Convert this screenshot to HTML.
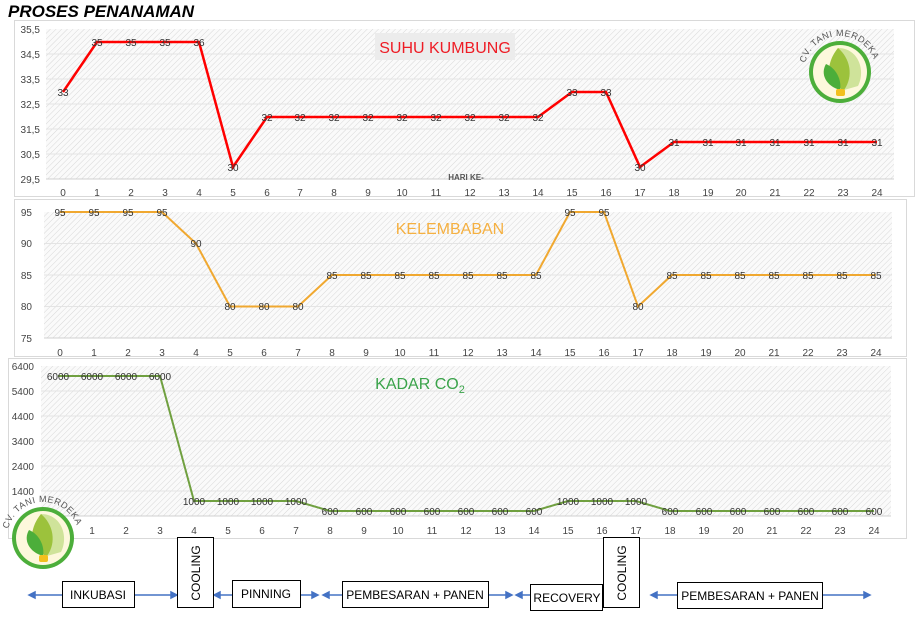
<!DOCTYPE html>
<html><head><meta charset="utf-8"><style>
body{margin:0;background:#fff;width:918px;height:619px;overflow:hidden}
svg{display:block;font-family:"Liberation Sans",sans-serif}
</style></head><body>
<svg width="918" height="619" viewBox="0 0 918 619" xmlns="http://www.w3.org/2000/svg">
<defs>
<pattern id="h" width="4" height="4" patternUnits="userSpaceOnUse" patternTransform="rotate(45)">
<rect width="4" height="4" fill="#fafafa"/><line x1="0" y1="0" x2="0" y2="4" stroke="#d8d8d8" stroke-width="1"/></pattern>
<g id="logo">
<circle r="31" fill="#4cae3a"/><circle r="27" fill="#fdf8dc"/>
<path d="M-2,-24 C18,-24 26,-2 18,14 L4,18 C-10,12 -14,-10 -2,-24Z" fill="#cfe39a"/>
<path d="M-2,-24 C10,-14 14,4 4,18 C-10,14 -18,-4 -2,-24Z" fill="#9cc23c"/>
<path d="M-14,-8 C-4,-4 2,8 0,18 C-14,14 -20,2 -14,-8Z" fill="#4cae3a"/>
<rect x="-4" y="17" width="9" height="7" rx="2" fill="#f2c01d"/>
<path id="arc" d="M-36,0 A36,36 0 0 1 36,0" fill="none"/>
<text font-size="9" fill="#555" letter-spacing="0.5"><textPath href="#arc" startOffset="8%">CV. TANI MERDEKA</textPath></text>
</g>
</defs>
<text x="8" y="17" font-size="17" font-weight="bold" font-style="italic">PROSES PENANAMAN</text>

<!-- Chart 1 -->
<rect x="14.5" y="20.5" width="900" height="176" fill="#fff" stroke="#d9d9d9"/>
<rect x="46" y="29" width="848" height="150" fill="url(#h)"/>
<g stroke="#e4e4e4" stroke-width="1">
<line x1="46" y1="54" x2="894" y2="54"/><line x1="46" y1="79" x2="894" y2="79"/><line x1="46" y1="104" x2="894" y2="104"/><line x1="46" y1="129" x2="894" y2="129"/><line x1="46" y1="154" x2="894" y2="154"/>
</g>
<line x1="46" y1="179" x2="894" y2="179" stroke="#d0d0d0"/>
<g font-size="10" fill="#444" text-anchor="end">
<text x="40" y="33">35,5</text><text x="40" y="58">34,5</text><text x="40" y="83">33,5</text><text x="40" y="108">32,5</text><text x="40" y="133">31,5</text><text x="40" y="158">30,5</text><text x="40" y="183">29,5</text></g>
<rect x="375" y="33" width="140" height="27" fill="#ececec"/>
<text x="445" y="53" font-size="16" fill="#ee1c25" text-anchor="middle">SUHU KUMBUNG</text>
<text x="466" y="180" font-size="8" font-weight="bold" fill="#555" text-anchor="middle">HARI KE-</text>
<polyline fill="none" stroke="#ff0000" stroke-width="2.5" points="63,92 97,42 131,42 165,42 199,42 233,167 267,117 300,117 334,117 368,117 402,117 436,117 470,117 504,117 538,117 572,92 606,92 640,167 674,142 708,142 741,142 775,142 809,142 843,142 877,142"/>
<g font-size="10" fill="#333" text-anchor="middle">
<text x="63" y="96">33</text><text x="97" y="46">35</text><text x="131" y="46">35</text><text x="165" y="46">35</text><text x="199" y="46">36</text><text x="233" y="171">30</text><text x="267" y="121">32</text><text x="300" y="121">32</text><text x="334" y="121">32</text><text x="368" y="121">32</text><text x="402" y="121">32</text><text x="436" y="121">32</text><text x="470" y="121">32</text><text x="504" y="121">32</text><text x="538" y="121">32</text><text x="572" y="96">33</text><text x="606" y="96">33</text><text x="640" y="171">30</text><text x="674" y="146">31</text><text x="708" y="146">31</text><text x="741" y="146">31</text><text x="775" y="146">31</text><text x="809" y="146">31</text><text x="843" y="146">31</text><text x="877" y="146">31</text></g>
<g font-size="10" fill="#444" text-anchor="middle">
<text x="63" y="196">0</text><text x="97" y="196">1</text><text x="131" y="196">2</text><text x="165" y="196">3</text><text x="199" y="196">4</text><text x="233" y="196">5</text><text x="267" y="196">6</text><text x="300" y="196">7</text><text x="334" y="196">8</text><text x="368" y="196">9</text><text x="402" y="196">10</text><text x="436" y="196">11</text><text x="470" y="196">12</text><text x="504" y="196">13</text><text x="538" y="196">14</text><text x="572" y="196">15</text><text x="606" y="196">16</text><text x="640" y="196">17</text><text x="674" y="196">18</text><text x="708" y="196">19</text><text x="741" y="196">20</text><text x="775" y="196">21</text><text x="809" y="196">22</text><text x="843" y="196">23</text><text x="877" y="196">24</text></g>
<use href="#logo" x="840" y="72"/>

<!-- Chart 2 -->
<rect x="14.5" y="199.5" width="892" height="157" fill="#fff" stroke="#d9d9d9"/>
<rect x="44" y="212" width="848" height="126" fill="url(#h)"/>
<g stroke="#e4e4e4"><line x1="44" y1="243.5" x2="892" y2="243.5"/><line x1="44" y1="275" x2="892" y2="275"/><line x1="44" y1="306.5" x2="892" y2="306.5"/></g>
<line x1="44" y1="338" x2="892" y2="338" stroke="#d0d0d0"/>
<g font-size="10" fill="#444" text-anchor="end">
<text x="32" y="216">95</text><text x="32" y="247">90</text><text x="32" y="279">85</text><text x="32" y="310">80</text><text x="32" y="342">75</text></g>
<text x="450" y="234" font-size="16" fill="#f5b041" text-anchor="middle">KELEMBABAN</text>
<polyline fill="none" stroke="#f0a830" stroke-width="2" points="60,212 94,212 128,212 162,212 196,243.5 230,306.5 264,306.5 298,306.5 332,275 366,275 400,275 434,275 468,275 502,275 536,275 570,212 604,212 638,306.5 672,275 706,275 740,275 774,275 808,275 842,275 876,275"/>
<g font-size="10" fill="#333" text-anchor="middle">
<text x="60" y="216">95</text><text x="94" y="216">95</text><text x="128" y="216">95</text><text x="162" y="216">95</text><text x="196" y="247">90</text><text x="230" y="310">80</text><text x="264" y="310">80</text><text x="298" y="310">80</text><text x="332" y="279">85</text><text x="366" y="279">85</text><text x="400" y="279">85</text><text x="434" y="279">85</text><text x="468" y="279">85</text><text x="502" y="279">85</text><text x="536" y="279">85</text><text x="570" y="216">95</text><text x="604" y="216">95</text><text x="638" y="310">80</text><text x="672" y="279">85</text><text x="706" y="279">85</text><text x="740" y="279">85</text><text x="774" y="279">85</text><text x="808" y="279">85</text><text x="842" y="279">85</text><text x="876" y="279">85</text></g>
<g font-size="10" fill="#444" text-anchor="middle">
<text x="60" y="356">0</text><text x="94" y="356">1</text><text x="128" y="356">2</text><text x="162" y="356">3</text><text x="196" y="356">4</text><text x="230" y="356">5</text><text x="264" y="356">6</text><text x="298" y="356">7</text><text x="332" y="356">8</text><text x="366" y="356">9</text><text x="400" y="356">10</text><text x="434" y="356">11</text><text x="468" y="356">12</text><text x="502" y="356">13</text><text x="536" y="356">14</text><text x="570" y="356">15</text><text x="604" y="356">16</text><text x="638" y="356">17</text><text x="672" y="356">18</text><text x="706" y="356">19</text><text x="740" y="356">20</text><text x="774" y="356">21</text><text x="808" y="356">22</text><text x="842" y="356">23</text><text x="876" y="356">24</text></g>

<!-- Chart 3 -->
<rect x="8.5" y="358.5" width="898" height="180" fill="#fff" stroke="#d9d9d9"/>
<rect x="41" y="366" width="850" height="150" fill="url(#h)"/>
<g stroke="#e4e4e4"><line x1="41" y1="391" x2="891" y2="391"/><line x1="41" y1="416" x2="891" y2="416"/><line x1="41" y1="441" x2="891" y2="441"/><line x1="41" y1="466" x2="891" y2="466"/><line x1="41" y1="491" x2="891" y2="491"/></g>
<line x1="41" y1="516" x2="891" y2="516" stroke="#d0d0d0"/>
<g font-size="10" fill="#444" text-anchor="end">
<text x="34" y="370">6400</text><text x="34" y="395">5400</text><text x="34" y="420">4400</text><text x="34" y="445">3400</text><text x="34" y="470">2400</text><text x="34" y="495">1400</text></g>
<text x="420" y="389" font-size="16" fill="#3aa34a" text-anchor="middle">KADAR CO<tspan font-size="11" dy="4">2</tspan></text>
<polyline fill="none" stroke="#70a040" stroke-width="2" points="58,376 92,376 126,376 160,376 194,501 228,501 262,501 296,501 330,511 364,511 398,511 432,511 466,511 500,511 534,511 568,501 602,501 636,501 670,511 704,511 738,511 772,511 806,511 840,511 874,511"/>
<g font-size="10" fill="#333" text-anchor="middle">
<text x="58" y="380">6000</text><text x="92" y="380">6000</text><text x="126" y="380">6000</text><text x="160" y="380">6000</text><text x="194" y="505">1000</text><text x="228" y="505">1000</text><text x="262" y="505">1000</text><text x="296" y="505">1000</text><text x="330" y="515">600</text><text x="364" y="515">600</text><text x="398" y="515">600</text><text x="432" y="515">600</text><text x="466" y="515">600</text><text x="500" y="515">600</text><text x="534" y="515">600</text><text x="568" y="505">1000</text><text x="602" y="505">1000</text><text x="636" y="505">1000</text><text x="670" y="515">600</text><text x="704" y="515">600</text><text x="738" y="515">600</text><text x="772" y="515">600</text><text x="806" y="515">600</text><text x="840" y="515">600</text><text x="874" y="515">600</text></g>
<g font-size="10" fill="#444" text-anchor="middle">
<text x="92" y="534">1</text><text x="126" y="534">2</text><text x="160" y="534">3</text><text x="194" y="534">4</text><text x="228" y="534">5</text><text x="262" y="534">6</text><text x="296" y="534">7</text><text x="330" y="534">8</text><text x="364" y="534">9</text><text x="398" y="534">10</text><text x="432" y="534">11</text><text x="466" y="534">12</text><text x="500" y="534">13</text><text x="534" y="534">14</text><text x="568" y="534">15</text><text x="602" y="534">16</text><text x="636" y="534">17</text><text x="670" y="534">18</text><text x="704" y="534">19</text><text x="738" y="534">20</text><text x="772" y="534">21</text><text x="806" y="534">22</text><text x="840" y="534">23</text><text x="874" y="534">24</text></g>
<use href="#logo" x="43" y="538"/>

<!-- Timeline -->
<g stroke="#4472c4" stroke-width="1.5" fill="#4472c4">
<line x1="32" y1="595" x2="62" y2="595"/><path d="M29,595 l6,-3 v6z"/>
<line x1="135" y1="595" x2="174" y2="595"/><path d="M177,595 l-6,-3 v6z"/>
<line x1="217" y1="595" x2="232" y2="595"/><path d="M214,595 l6,-3 v6z"/>
<line x1="300" y1="595" x2="315" y2="595"/><path d="M318,595 l-6,-3 v6z"/>
<line x1="327" y1="595" x2="342" y2="595"/><path d="M323,595 l6,-3 v6z"/>
<line x1="488" y1="595" x2="508" y2="595"/><path d="M512,595 l-6,-3 v6z"/>
<path d="M516,595 l6,-3 v6z"/><line x1="520" y1="595" x2="530" y2="595"/>
<line x1="655" y1="595" x2="677" y2="595"/><path d="M651,595 l6,-3 v6z"/>
<line x1="822" y1="595" x2="866" y2="595"/><path d="M870,595 l-6,-3 v6z"/>
</g>
<g fill="#fff" stroke="#000" stroke-width="1">
<rect x="62.5" y="581.5" width="72" height="26"/>
<rect x="177.5" y="537.5" width="36" height="70"/>
<rect x="232.5" y="580.5" width="68" height="27"/>
<rect x="342.5" y="581.5" width="146" height="26"/>
<rect x="530.5" y="584.5" width="72" height="26"/>
<rect x="603.5" y="537.5" width="36" height="70"/>
<rect x="677.5" y="582.5" width="145" height="26"/>
</g>
<g font-size="12" fill="#000" text-anchor="middle">
<text x="98" y="599">INKUBASI</text>
<text x="266" y="598">PINNING</text>
<text x="415" y="599">PEMBESARAN + PANEN</text>
<text x="567" y="602">RECOVERY</text>
<text x="750" y="600">PEMBESARAN + PANEN</text>
<text transform="translate(200,573) rotate(-90)">COOLING</text>
<text transform="translate(626,573) rotate(-90)">COOLING</text>
</g>
</svg>
</body></html>
